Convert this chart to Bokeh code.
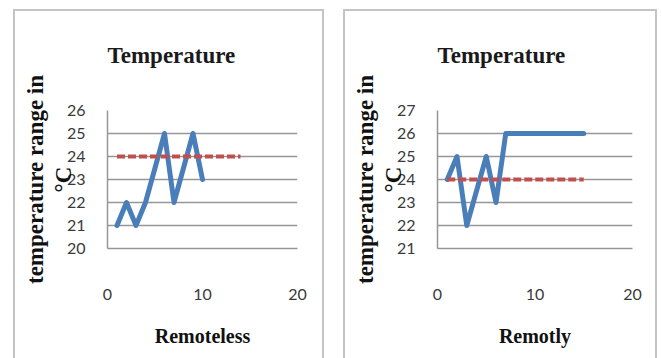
from bokeh.plotting import figure
from bokeh.layouts import row
from bokeh.models import Range1d, FixedTicker, Title
from bokeh.embed import file_html
from bokeh.resources import INLINE

# Remoteless operation
remoteless_x = [1, 2, 3, 4, 5, 6, 7, 8, 9, 10]
remoteless_temp = [21, 22, 21, 22, 23.5, 25, 22, 23.5, 25, 23]
remoteless_set_x = [1, 2, 3, 4, 5, 6, 7, 8, 9, 10, 11, 12, 13, 14]
remoteless_set = [24] * 14

# Remote operation
remotly_x = [1, 2, 3, 4, 5, 6, 7, 8, 9, 10, 11, 12, 13, 14, 15]
remotly_temp = [24, 25, 22, 23.5, 25, 23, 26, 26, 26, 26, 26, 26, 26, 26, 26]
remotly_set_x = [1, 2, 3, 4, 5, 6, 7, 8, 9, 10, 11, 12, 13, 14, 15]
remotly_set = [24] * 15

x_ticks = [0, 10, 20]
chart_title = "Temperature"
y_title = "temperature range in\n°C"

BLUE = "#4a7ebb"
RED = "#c0504d"
GRID = "#969696"
BOX = "#c4c4c4"
SERIF = "Liberation Serif"
SANS = "Lato"

# chart-area frame drawn outside each figure (left, right, top edges)
FRAME_SHADOW = (f"-2px 0 0 0 {BOX}, 2px 0 0 0 {BOX}, 0 -2px 0 0 {BOX}, "
                f"-2px -2px 0 0 {BOX}, 2px -2px 0 0 {BOX}")


def panel(xs, ys, sx, sy, y_lo, y_hi, x_title, width, frame_w, margin):
    p = figure(
        width=width, height=347,
        x_range=Range1d(0, 20), y_range=Range1d(y_lo, y_hi),
        output_backend="svg", toolbar_location=None,
        min_border_left=92, min_border_right=width - 92 - frame_w,
        min_border_top=99, min_border_bottom=110,
        background_fill_color="white", border_fill_color="white",
        outline_line_color=None,
        margin=margin,
        styles={"box-shadow": FRAME_SHADOW},
    )
    # empty band that lifts the heading away from the plot area
    p.add_layout(Title(text=" ", text_font_size="23px"), "above")
    p.add_layout(Title(text=chart_title, align="left", offset=0,
                       text_font=SERIF, text_font_style="bold",
                       text_font_size="23px", text_color="#1a1a1a"), "above")

    p.line(xs, ys, line_color=BLUE, line_width=5, line_join="round", line_cap="round")
    p.line(sx, sy, line_color=RED, line_width=4, line_dash="8 3")

    p.xgrid.visible = False
    p.ygrid.grid_line_color = GRID
    p.ygrid.grid_line_width = 1.5
    p.ygrid.ticker = FixedTicker(ticks=list(range(y_lo, y_hi + 1)))

    ya = p.yaxis[0]
    ya.ticker = FixedTicker(ticks=list(range(y_lo, y_hi + 1)))
    ya.axis_line_color = GRID
    ya.axis_line_width = 1.5
    ya.major_tick_line_color = None
    ya.minor_tick_line_color = None
    ya.major_tick_out = 0
    ya.major_tick_in = 0
    ya.major_label_standoff = 22
    ya.major_label_text_font = SANS
    ya.major_label_text_font_size = "16px"
    ya.major_label_text_color = "#3a3a3a"
    ya.axis_label = y_title
    ya.axis_label_text_font = SERIF
    ya.axis_label_text_font_style = "bold"
    ya.axis_label_text_font_size = "23px"
    ya.axis_label_text_line_height = 1.1
    ya.axis_label_text_color = "#111111"
    ya.axis_label_standoff = -12

    xa = p.xaxis[0]
    xa.ticker = FixedTicker(ticks=x_ticks)
    xa.axis_line_color = GRID
    xa.axis_line_width = 1.5
    xa.major_tick_line_color = None
    xa.minor_tick_line_color = None
    xa.major_tick_out = 0
    xa.major_tick_in = 0
    xa.major_label_standoff = 40
    xa.major_label_text_font = SANS
    xa.major_label_text_font_size = "16px"
    xa.major_label_text_color = "#3a3a3a"
    xa.axis_label = x_title
    xa.axis_label_text_font = SERIF
    xa.axis_label_text_font_style = "bold"
    xa.axis_label_text_font_size = "20px"
    xa.axis_label_text_color = "#111111"
    xa.axis_label_standoff = 22
    return p


p1 = panel(remoteless_x, remoteless_temp, remoteless_set_x, remoteless_set,
           20, 26, "Remoteless", 307, 190, (11, 0, 0, 15))
p2 = panel(remotly_x, remotly_temp, remotly_set_x, remotly_set,
           21, 27, "Remotly", 310, 195, (11, 0, 0, 23))

layout = row(p1, p2, spacing=0)
open("out.html", "w").write(file_html(layout, INLINE))
